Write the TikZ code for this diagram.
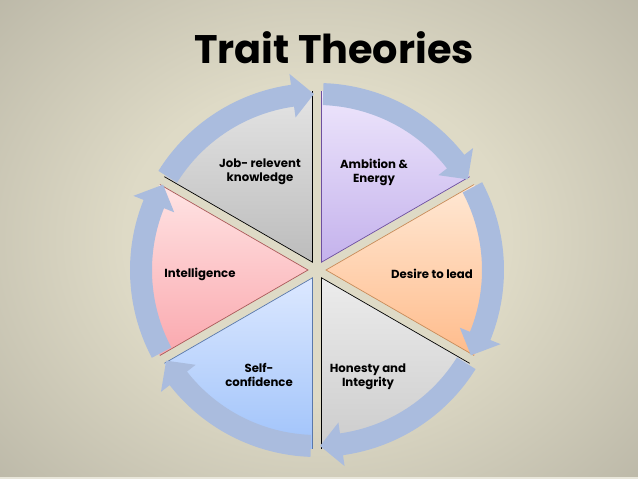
\documentclass[tikz,border=0pt]{standalone}
\usepackage{fontspec}
\setmainfont{Poppins}
\usepackage{tikz}
\usetikzlibrary{positioning}
\definecolor{bgLight}{RGB}{222,218,198}
\definecolor{bgDark}{RGB}{138,135,124}
\definecolor{stripLight}{RGB}{232,230,218}
\definecolor{ringBlue}{RGB}{170,188,222}
\definecolor{jobTop}{RGB}{228,228,228}
\definecolor{jobBot}{RGB}{188,188,188}
\definecolor{ambTop}{RGB}{238,230,252}
\definecolor{ambBot}{RGB}{196,178,236}
\definecolor{ambEdge}{RGB}{110,80,160}
\definecolor{desTop}{RGB}{255,232,212}
\definecolor{desBot}{RGB}{255,188,140}
\definecolor{desEdge}{RGB}{200,140,90}
\definecolor{honTop}{RGB}{236,236,236}
\definecolor{honBot}{RGB}{204,204,204}
\definecolor{selfTop}{RGB}{220,232,255}
\definecolor{selfBot}{RGB}{160,195,250}
\definecolor{selfEdge}{RGB}{90,120,170}
\definecolor{intTop}{RGB}{255,228,228}
\definecolor{intBot}{RGB}{250,168,174}
\definecolor{intEdge}{RGB}{170,90,90}
\pgfdeclareradialshading{slidebg}{\pgfpoint{0bp}{0bp}}{color(0bp)=(bgLight); color(12bp)=(bgLight); color(50bp)=(bgDark)}

\begin{document}
\begin{tikzpicture}[x=0.03cm, y=0.03cm,
        band/.style={fill=ringBlue},
        edge/.style={line width=0.6pt},
        lbl/.style={font=\fontsize{10}{12}\selectfont\bfseries, align=center,
          text=black, inner sep=1pt},
        ttl/.style={font=\fontsize{34}{40}\selectfont\bfseries, text=black}
      ]
        \useasboundingbox (-317,-209) rectangle (321,270);

        % slide background
        \begin{scope}
          \clip (-317,-209) rectangle (321,270);
          \shade[shading=slidebg] (-400,-300) rectangle (400,360);
          \fill[stripLight] (-317,-209) rectangle (321,-207);
        \end{scope}

        % title
        \node[ttl] (title) at (17,222) {Trait Theories};

        % Job- relevent knowledge
        \begin{scope}[shift={(120:9)}]
          \shade[top color=jobTop, bottom color=jobBot]
            (0,0) -- (150:171) arc[start angle=150, end angle=90, radius=171] -- cycle;
          \draw[edge, black] (150:171) -- (0,0) -- (90:171);
        \end{scope}

        % Ambition & Energy
        \begin{scope}[shift={(60:9)}]
          \shade[top color=ambTop, bottom color=ambBot]
            (0,0) -- (90:171) arc[start angle=90, end angle=30, radius=171] -- cycle;
          \draw[edge, ambEdge] (90:171) -- (0,0) -- (30:171);
        \end{scope}

        % Desire to lead
        \begin{scope}[shift={(0:9)}]
          \shade[top color=desTop, bottom color=desBot]
            (0,0) -- (30:171) arc[start angle=30, end angle=-30, radius=171] -- cycle;
          \draw[edge, desEdge] (30:171) -- (0,0) -- (-30:171);
        \end{scope}

        % Honesty and Integrity
        \begin{scope}[shift={(-60:9)}]
          \shade[top color=honTop, bottom color=honBot]
            (0,0) -- (-30:171) arc[start angle=-30, end angle=-90, radius=171] -- cycle;
          \draw[edge, black] (-30:171) -- (0,0) -- (-90:171);
        \end{scope}

        % Self- confidence
        \begin{scope}[shift={(-120:9)}]
          \shade[top color=selfTop, bottom color=selfBot]
            (0,0) -- (-90:171) arc[start angle=-90, end angle=-150, radius=171] -- cycle;
          \draw[edge, selfEdge] (-90:171) -- (0,0) -- (-150:171);
        \end{scope}

        % Intelligence
        \begin{scope}[shift={(180:9)}]
          \shade[top color=intTop, bottom color=intBot]
            (0,0) -- (210:171) arc[start angle=210, end angle=150, radius=171] -- cycle;
          \draw[edge, intEdge] (210:171) -- (0,0) -- (150:171);
        \end{scope}

        % cycle arrows round the pie
        \fill[band] (148:187) arc[start angle=148, end angle=98, radius=187] -- (98:198) -- (91:176)
          -- (98:154) -- (98:165) arc[start angle=98, end angle=148, radius=165] -- cycle;
        \fill[band] (88:187) arc[start angle=88, end angle=38, radius=187] -- (38:198) -- (31:176)
          -- (38:154) -- (38:165) arc[start angle=38, end angle=88, radius=165] -- cycle;
        \fill[band] (28:187) arc[start angle=28, end angle=-22, radius=187] -- (-22:198) -- (-29:176)
          -- (-22:154) -- (-22:165) arc[start angle=-22, end angle=28, radius=165] -- cycle;
        \fill[band] (-32:187) arc[start angle=-32, end angle=-82, radius=187] -- (-82:198) -- (-89:176)
          -- (-82:154) -- (-82:165) arc[start angle=-82, end angle=-32, radius=165] -- cycle;
        \fill[band] (-92:187) arc[start angle=-92, end angle=-142, radius=187] -- (-142:198) -- (-149:176)
          -- (-142:154) -- (-142:165) arc[start angle=-142, end angle=-92, radius=165] -- cycle;
        \fill[band] (-152:187) arc[start angle=-152, end angle=-202, radius=187] -- (-202:198) -- (-209:176)
          -- (-202:154) -- (-202:165) arc[start angle=-202, end angle=-152, radius=165] -- cycle;

        % segment labels
        \node[lbl] (jobLbl) at (-57,98) {Job- relevent\\knowledge};
        \node[lbl] (ambLbl) at (57,98) {Ambition \&\\Energy};
        \node[lbl] (desLbl) at (115,-4) {Desire to lead};
        \node[lbl] (honLbl) at (51,-107) {Honesty and\\Integrity};
        \node[lbl] (selfLbl) at (-58,-105) {Self-\\confidence};
        \node[lbl] (intLbl) at (-117,-4) {Intelligence};
      \end{tikzpicture}
\end{document}
